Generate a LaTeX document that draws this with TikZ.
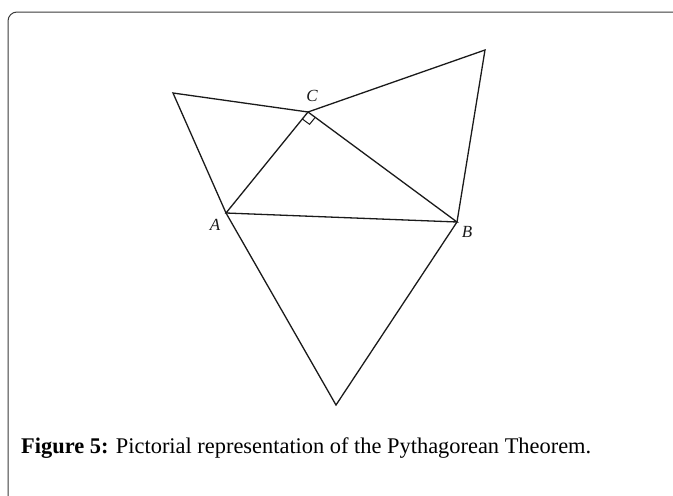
\documentclass[tikz,border=0pt]{standalone}
\usepackage{fontspec}
\setmainfont{Liberation Serif}
\usepackage{tikz}
\usetikzlibrary{calc}
\definecolor{figink}{HTML}{1A1A1A}
\definecolor{frameedge}{HTML}{3A3A3A}

\begin{document}
\begin{tikzpicture}[
  x=1pt, y=-1pt,
  edge/.style={draw=figink, line width=1.3pt, line join=miter},
  vlabel/.style={font=\fontsize{17}{17}\selectfont\itshape, text=figink, inner sep=0pt},
  caption/.style={anchor=base west, inner sep=0pt, font=\fontsize{22.4}{24}\selectfont, text=black}
]
  \useasboundingbox (0,0) rectangle (673,496);
  % frame
  \draw[frameedge, line width=1pt, rounded corners=9pt] (8,500) -- (8,12) -- (680,12);

  % right triangle
  \coordinate (A) at (226,213);
  \coordinate (B) at (457,222);
  \coordinate (C) at (308,112);
  % outer apexes of the three triangles
  \coordinate (PAC) at (173,93);
  \coordinate (PCB) at (485,50);
  \coordinate (PAB) at (336,405);

  \draw[edge] (A) -- (B) -- (C) -- cycle;
  \draw[edge] (A) -- (PAC) -- (C);
  \draw[edge] (C) -- (PCB) -- (B);
  \draw[edge] (A) -- (PAB) -- (B);

  % right angle at C
  \coordinate (ra) at ($(C)!9pt!(A)$);
  \coordinate (rb) at ($(C)!9pt!(B)$);
  \draw[figink, line width=1pt] (ra) -- ($(ra)+(rb)-(C)$) -- (rb);

  \node[vlabel] (lC) at (312,96) {C};
  \node[vlabel] (lA) at (215,225) {A};
  \node[vlabel] (lB) at (467,232) {B};

  \node[caption] (cap) at (21,453) {\textbf{Figure 5:} Pictorial representation of the Pythagorean Theorem.};
\end{tikzpicture}
\end{document}
